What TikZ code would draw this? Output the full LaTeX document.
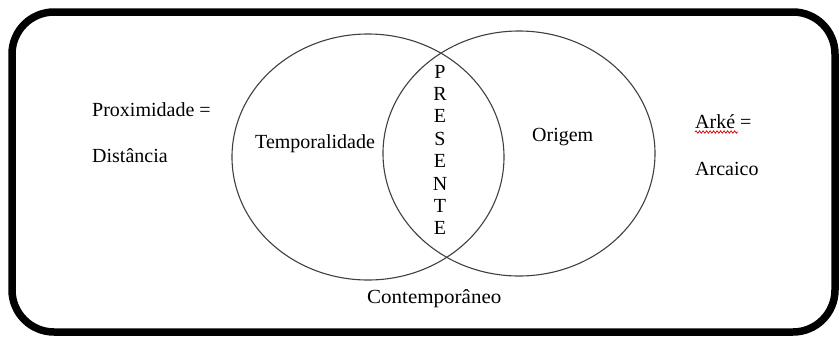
\documentclass[tikz,border=0pt]{standalone}
\usepackage{fontspec}
\setmainfont{Liberation Serif}
\usetikzlibrary{decorations.pathmorphing}
\begin{document}
\begin{tikzpicture}[x=1pt,y=-1pt,
  frame/.style={line width=7.5pt,rounded corners=42pt},
  venn/.style={draw=black!75,line width=1.1pt},
  lbl/.style={font=\fontsize{20}{23}\selectfont,inner sep=0pt,anchor=base west},
  letter/.style={font=\fontsize{20}{23}\selectfont,inner sep=0pt,anchor=base}]
\useasboundingbox (0,0) rectangle (839,338);
\draw[frame] (12,12) rectangle (835,332);
\draw[venn] (368,157) ellipse [x radius=136pt,y radius=123pt];
\draw[venn] (519,153.5) ellipse [x radius=136pt,y radius=122.5pt];
\node[lbl] (prox) at (92,116) {Proximidade =};
\node[lbl] (dist) at (92,162) {Distância};
\node[lbl] (temp) at (255,148) {Temporalidade};
\node[lbl] (orig) at (532,141) {Origem};
\node[lbl] (arke) at (695,128) {Arké =};
\node[lbl] (arca) at (695,175) {Arcaico};
\node[lbl,xscale=1.05] (cont) at (367,303) {Contemporâneo};
\foreach \c [count=\i from 0] in {P,R,E,S,E,N,T,E}
  \node[letter] (p\i) at (440,78+22.4*\i) {\c};
\coordinate (w1) at (695,132);
\coordinate (w2) at (738,132);
\draw[red!85!black,line width=0.7pt,decorate,decoration={snake,amplitude=1.2pt,segment length=3.5pt}] (w1) -- (w2);
\end{tikzpicture}
\end{document}
